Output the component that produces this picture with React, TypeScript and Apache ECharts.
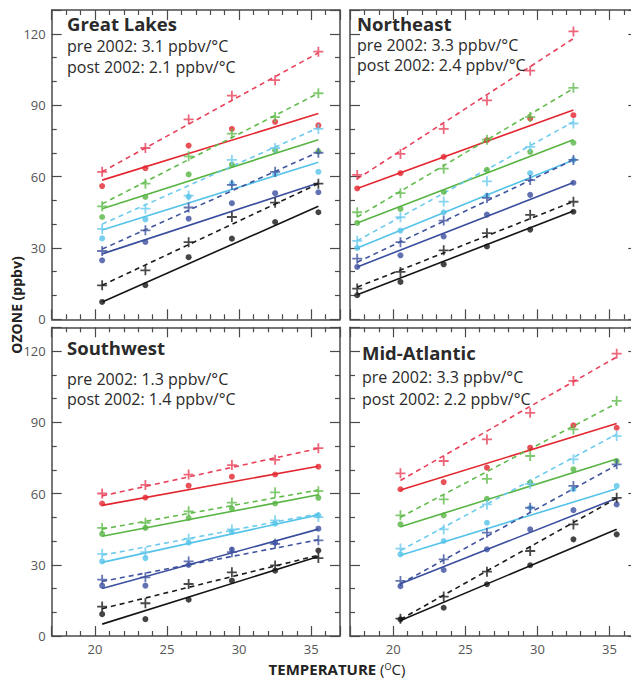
import React, { useEffect, useRef } from "react";
import * as echarts from "echarts";

// ---------- data ----------
const regionNames = ["Great Lakes", "Northeast", "Southwest", "Mid-Atlantic"];
const preRates = ["3.1", "3.3", "1.3", "3.3"];
const postRates = ["2.1", "2.4", "1.4", "2.2"];

const tempBins = [20.5, 23.5, 26.5, 29.5, 32.5, 35.5];
const tempBinsNortheast = [17.5, 20.5, 23.5, 26.5, 29.5, 32.5];

const xTickLabels = [20, 25, 30, 35];
const yTickLabels = [0, 30, 60, 90, 120];

// rows: red, green, cyan, blue, black (ppbv)
const greatLakesPre = [
  [62, 72, 84, 94, 100.5, 112.5],
  [47.5, 57, 68.5, 78, 85, 95],
  [38, 46.5, 52, 67, 72, 80],
  [28.7, 37.4, 47, 56.5, 62, 70],
  [14.3, 20.6, 32.4, 43, 49, 57],
];
const greatLakesPost = [
  [56, 63.5, 73, 80, 83, 81.5],
  [43, 51.4, 60.9, 65, 71, 70.5],
  [34, 42, 51.5, 57, 61, 62],
  [24.8, 32.5, 42.3, 48.8, 53, 53.4],
  [7.3, 14.3, 26.1, 33.9, 40.9, 45],
];
const greatLakesPreFit = [[62, 112], [48.5, 95], [40, 80.5], [29.5, 70.3], [14.3, 57]];
const greatLakesPostFit = [[58.5, 86.5], [46.5, 75.5], [37.5, 66], [27.5, 57.3], [7.3, 47.5]];

const northeastPre = [
  [60.7, 69.5, 80, 92, 104.5, 121],
  [45, 53, 63.3, 75.5, 85, 97.3],
  [33, 42.9, 49.5, 58, 72.5, 82.3],
  [25.5, 32.4, 41.5, 51, 58.5, 67],
  [12.9, 19.9, 29, 36.2, 43.9, 49.4],
];
const northeastPost = [
  [55, 61.4, 68.3, 75.3, 84.4, 85.8],
  [40.5, 46.4, 53.5, 62.8, 70.4, 74.2],
  [30, 37.3, 45, 52, 61.4, 67],
  [22, 26.9, 34.8, 44, 52.3, 57.4],
  [10.1, 15.7, 23.1, 30.6, 37.7, 45.2],
];
const northeastPreFit = [[59, 118], [43, 97], [33, 83], [24, 67], [13.5, 49.5]];
const northeastPostFit = [[55, 88], [40.5, 75.5], [30, 67], [22, 57.5], [10.3, 45.5]];

const southwestPre = [
  [60, 63.6, 68, 72, 74.2, 79.1],
  [45.5, 47.7, 52.5, 56.2, 60.5, 61],
  [34.6, 35.3, 41, 44.9, 48.7, 50.1],
  [23.7, 24.7, 31.4, 35.3, 38.8, 40.3],
  [12.4, 13.8, 21.9, 26.8, 29.7, 32.8],
];
const southwestPost = [
  [55.8, 58.3, 63.3, 67.1, 68, 71.3],
  [43, 45.5, 49.7, 53.7, 55.8, 58.2],
  [31.4, 32.8, 39.3, 43.8, 47.3, 50.8],
  [21.2, 21.2, 29.9, 36.4, 39.3, 45.2],
  [9.2, 7.1, 15.3, 23.3, 27.5, 36],
];
const southwestPreFit = [[59, 79], [45, 61.5], [34, 51.5], [23, 40.5], [11.5, 34]];
const southwestPostFit = [[55, 71.5], [42, 59.5], [31, 51], [20, 45], [5, 33.5]];

const midAtlanticPre = [
  [68.5, 73.7, 82.8, 94, 107.4, 118.9],
  [50.8, 57.5, 66.2, 75.8, 87, 99],
  [36.8, 44.9, 55.4, 64, 74.4, 84.2],
  [23.2, 32.3, 43.5, 54, 63.2, 72.3],
  [7.3, 16.6, 27.1, 35.8, 47, 58.2],
];
const midAtlanticPost = [
  [61.8, 64.8, 70.9, 79.3, 88.7, 87.7],
  [47, 50.8, 57.8, 64.6, 70.2, 73.7],
  [34.4, 40, 47.7, 54, 61.8, 63.2],
  [21, 27.8, 36.5, 44.9, 53, 55.4],
  [7, 11.9, 21.8, 29.8, 40.7, 42.8],
];
const midAtlanticPreFit = [[65.5, 117.5], [50, 98], [36, 85], [22, 72], [7, 58]];
const midAtlanticPostFit = [[61.5, 89.5], [46, 74.5], [34, 62], [22, 58], [6.5, 45]];

// ---------- styles / layout ----------
const solidColors = ["#e3262f", "#58b443", "#55c3e9", "#3a4e9e", "#151515"];
const dashedColors = ["#e8415a", "#62bb4c", "#6ccbed", "#40549f", "#1c1c1c"];
const FONT = "'Open Sans', 'Noto Sans', sans-serif";
const AXIS_COLOR = "#4a4a4a";
const PLUS_PATH = "path://M4.1,0H5.9V4.1H10V5.9H5.9V10H4.1V5.9H0V4.1H4.1Z";

const grids = [
  { left: 51.7, top: 10, width: 288.3, height: 309.3 },
  { left: 350, top: 10, width: 288.3, height: 309.3 },
  { left: 51.7, top: 327.3, width: 288.3, height: 308.7 },
  { left: 350, top: 327.3, width: 288.3, height: 308.7 },
];
const showXLabels = [false, false, true, true];
const showYLabels = [true, false, true, false];
const textPos = [
  { x: 67, y: [23, 46, 67] },
  { x: 357, y: [23, 45, 65] },
  { x: 67, y: [347, 379, 399] },
  { x: 362, y: [352, 377, 399] },
];

const panels = [
  { bins: tempBins, pre: greatLakesPre, post: greatLakesPost, preFit: greatLakesPreFit, postFit: greatLakesPostFit },
  { bins: tempBinsNortheast, pre: northeastPre, post: northeastPost, preFit: northeastPreFit, postFit: northeastPostFit },
  { bins: tempBins, pre: southwestPre, post: southwestPost, preFit: southwestPreFit, postFit: southwestPostFit },
  { bins: tempBins, pre: midAtlanticPre, post: midAtlanticPost, preFit: midAtlanticPreFit, postFit: midAtlanticPostFit },
];

function makeXAxis(gi: number, position: string, showLabel: boolean) {
  return {
    type: "value",
    gridIndex: gi,
    position,
    min: 17,
    max: 37,
    splitNumber: 4,
    axisLine: { show: true, onZero: false, lineStyle: { color: AXIS_COLOR, width: 1.5 } },
    axisTick: { show: true, inside: true, length: 10, lineStyle: { color: AXIS_COLOR, width: 1.2 } },
    minorTick: { show: true, splitNumber: 5, length: 5, lineStyle: { color: AXIS_COLOR, width: 1.2 } },
    splitLine: { show: false },
    minorSplitLine: { show: false },
    axisLabel: {
      show: showLabel,
      color: "#555",
      fontSize: 13,
      lineHeight: 13,
      fontFamily: FONT,
      margin: 6,
      formatter: (v: number) => (xTickLabels.includes(v) ? String(v) : ""),
    },
  };
}

function makeYAxis(gi: number, position: string, showLabel: boolean) {
  return {
    type: "value",
    gridIndex: gi,
    position,
    min: 0,
    max: 130,
    interval: 30,
    axisLine: { show: true, onZero: false, lineStyle: { color: AXIS_COLOR, width: 1.5 } },
    axisTick: { show: true, inside: true, length: 10, lineStyle: { color: AXIS_COLOR, width: 1.2 } },
    minorTick: { show: true, splitNumber: 3, length: 5, lineStyle: { color: AXIS_COLOR, width: 1.2 } },
    splitLine: { show: false },
    minorSplitLine: { show: false },
    axisLabel: {
      show: showLabel,
      color: "#555",
      fontSize: 13,
      fontFamily: FONT,
      margin: 6,
      formatter: (v: number) => (yTickLabels.includes(v) ? String(v) : ""),
    },
  };
}

function buildOption() {
  const xAxes: any[] = [];
  const yAxes: any[] = [];
  const series: any[] = [];
  const graphics: any[] = [];

  grids.forEach((_, gi) => {
    xAxes.push(makeXAxis(gi, "bottom", showXLabels[gi]));
    xAxes.push(makeXAxis(gi, "top", false));
    yAxes.push(makeYAxis(gi, "left", showYLabels[gi]));
    yAxes.push(makeYAxis(gi, "right", false));
  });

  panels.forEach((p, gi) => {
    const xi = gi * 2;
    const yi = gi * 2;
    const x0 = p.bins[0];
    const x1 = p.bins[p.bins.length - 1];
    for (let c = 0; c < 5; c++) {
      series.push({
        type: "line",
        xAxisIndex: xi,
        yAxisIndex: yi,
        data: [[x0, p.preFit[c][0]], [x1, p.preFit[c][1]]],
        showSymbol: false,
        silent: true,
        lineStyle: { color: dashedColors[c], width: 1.6, type: [5, 4] },
        z: 2,
      });
      series.push({
        type: "line",
        xAxisIndex: xi,
        yAxisIndex: yi,
        data: [[x0, p.postFit[c][0]], [x1, p.postFit[c][1]]],
        showSymbol: false,
        silent: true,
        lineStyle: { color: solidColors[c], width: 1.6, type: "solid" },
        z: 2,
      });
      series.push({
        type: "scatter",
        xAxisIndex: xi,
        yAxisIndex: yi,
        data: p.bins.map((b, k) => [b, p.pre[c][k]]),
        symbol: PLUS_PATH,
        symbolSize: 10,
        itemStyle: { color: dashedColors[c] },
        z: 3,
      });
      series.push({
        type: "scatter",
        xAxisIndex: xi,
        yAxisIndex: yi,
        data: p.bins.map((b, k) => [b, p.post[c][k]]),
        symbol: "circle",
        symbolSize: 6,
        itemStyle: { color: solidColors[c] },
        z: 3,
      });
    }

    const tp = textPos[gi];
    graphics.push({
      type: "text",
      x: tp.x,
      y: tp.y[0],
      style: {
        text: regionNames[gi],
        fontSize: 18.5,
        fontWeight: "bold",
        fontFamily: FONT,
        fill: "#2a2a2a",
        verticalAlign: "middle",
        lineHeight: 19,
      },
      z: 10,
    });
    graphics.push({
      type: "text",
      x: tp.x,
      y: tp.y[1],
      style: {
        text: `pre 2002: ${preRates[gi]} ppbv/°C`,
        fontSize: 16,
        fontFamily: FONT,
        fill: "#2a2a2a",
        verticalAlign: "middle",
        lineHeight: 17,
      },
      z: 10,
    });
    graphics.push({
      type: "text",
      x: tp.x,
      y: tp.y[2],
      style: {
        text: `post 2002: ${postRates[gi]} ppbv/°C`,
        fontSize: 16,
        fontFamily: FONT,
        fill: "#2a2a2a",
        verticalAlign: "middle",
        lineHeight: 17,
      },
      z: 10,
    });
  });

  graphics.push({
    type: "text",
    x: 16,
    y: 305,
    rotation: Math.PI / 2,
    style: {
      text: "OZONE (ppbv)",
      fontSize: 14,
      fontWeight: "bold",
      fontFamily: FONT,
      fill: "#222",
      align: "center",
      verticalAlign: "middle",
    },
  });
  graphics.push({
    type: "text",
    x: 337,
    y: 669,
    style: {
      text: "{b|TEMPERATURE }{r|(}{s|O}{r|C)}",
      fontFamily: FONT,
      align: "center",
      verticalAlign: "middle",
      rich: {
        b: { fontSize: 15, lineHeight: 14, fontWeight: "bold", fontFamily: FONT, fill: "#222", color: "#222" },
        r: { fontSize: 15, lineHeight: 14, fontFamily: FONT, fill: "#222", color: "#222" },
        s: { fontSize: 9, lineHeight: 9, fontFamily: FONT, fill: "#222", color: "#222", padding: [0, 0, 5, 0] },
      },
    },
  });

  return {
    animation: false,
    backgroundColor: "#ffffff",
    grid: grids.map((g) => ({ ...g, containLabel: false, outerBoundsMode: "none" })),
    xAxis: xAxes,
    yAxis: yAxes,
    series,
    graphic: graphics,
  };
}

export default function App() {
  const ref = useRef<HTMLDivElement>(null);
  useEffect(() => {
    document.body.style.margin = "0";
    if (!ref.current) return;
    const chart = echarts.init(ref.current, undefined, { renderer: "svg" });
    chart.setOption(buildOption() as any);
    return () => chart.dispose();
  }, []);
  return <div ref={ref} style={{ width: 631, height: 679, overflow: "hidden" }} />;
}
